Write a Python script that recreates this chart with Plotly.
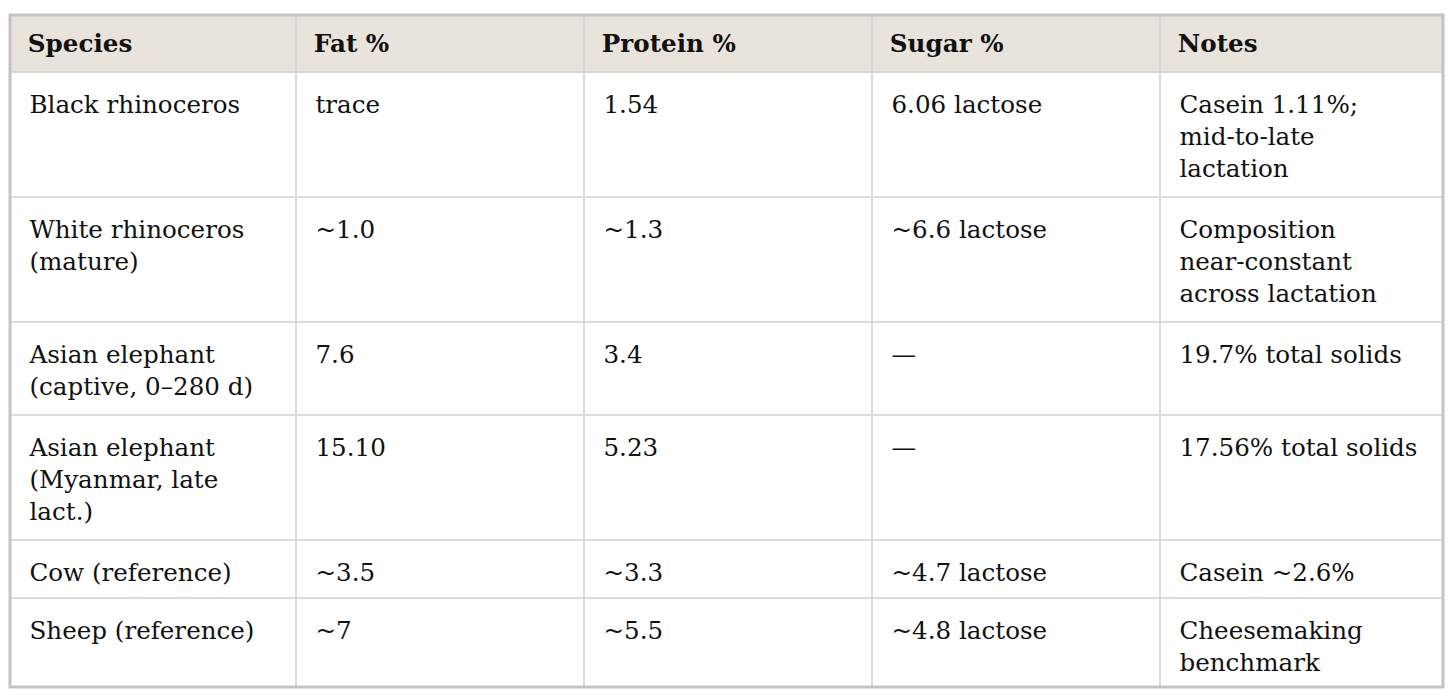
import plotly.graph_objects as go

# table contents, one list per column
columns = ["Species", "Fat %", "Protein %", "Sugar %", "Notes"]
species = ["Black rhinoceros", "White rhinoceros<br>(mature)", "Asian elephant<br>(captive, 0–280 d)",
           "Asian elephant<br>(Myanmar, late<br>lact.)", "Cow (reference)", "Sheep (reference)"]
fat = ["trace", "~1.0", "7.6", "15.10", "~3.5", "~7"]
protein = ["1.54", "~1.3", "3.4", "5.23", "~3.3", "~5.5"]
sugar = ["6.06 lactose", "~6.6 lactose", "—", "—", "~4.7 lactose", "~4.8 lactose"]
notes = ["Casein 1.11%;<br>mid-to-late<br>lactation", "Composition<br>near-constant<br>across lactation",
         "19.7% total solids", "17.56% total solids", "Casein ~2.6%", "Cheesemaking<br>benchmark"]

FONT = "DejaVu Serif"
SIZE = 24.6
NB = "\u00a0"


def spacer(px):
    # invisible blank in a bigger font: widens the left inset and the text box
    return '<span style="font-size:%gpx">%s</span>' % (px, NB)


def fmt(txt, top=36, bottom=51):
    lines = txt.split("<br>")
    out = [spacer(top) + s for s in lines]
    if len(lines) > 1:
        out[-1] += spacer(bottom)
        return "<br>".join(out)
    # a trailing break keeps plotly from re-wrapping the text at spaces
    return out[0] + "<br>"


cols = [species, fat, protein, sugar, notes]
cell_vals = [[fmt(v) for v in c] for c in cols]
head_vals = [fmt("<b>%s</b>" % c, top=31) for c in columns]

fig = go.Figure(go.Table(
    columnwidth=[286, 288, 288, 288, 283],
    header=dict(
        values=head_vals,
        fill_color="#e8e4dc",
        line=dict(color="#d6d6d6", width=2),
        align="left",
        height=57,
        font=dict(family=FONT, size=SIZE, color="#111111"),
    ),
    cells=dict(
        values=cell_vals,
        fill_color="white",
        line=dict(color="#dcdcdc", width=2),
        align="left",
        height=58,
        font=dict(family=FONT, size=SIZE, color="#111111"),
    ),
))

fig.update_layout(
    width=1440, height=687,
    margin=dict(l=2, r=5, t=7, b=8),
    paper_bgcolor="white",
)
# heavier frame around the whole table
fig.add_shape(type="rect", xref="paper", yref="paper", x0=0, x1=1, y0=0, y1=1,
              line=dict(color="#c4c4c4", width=3))

fig.write_html("out.html")
